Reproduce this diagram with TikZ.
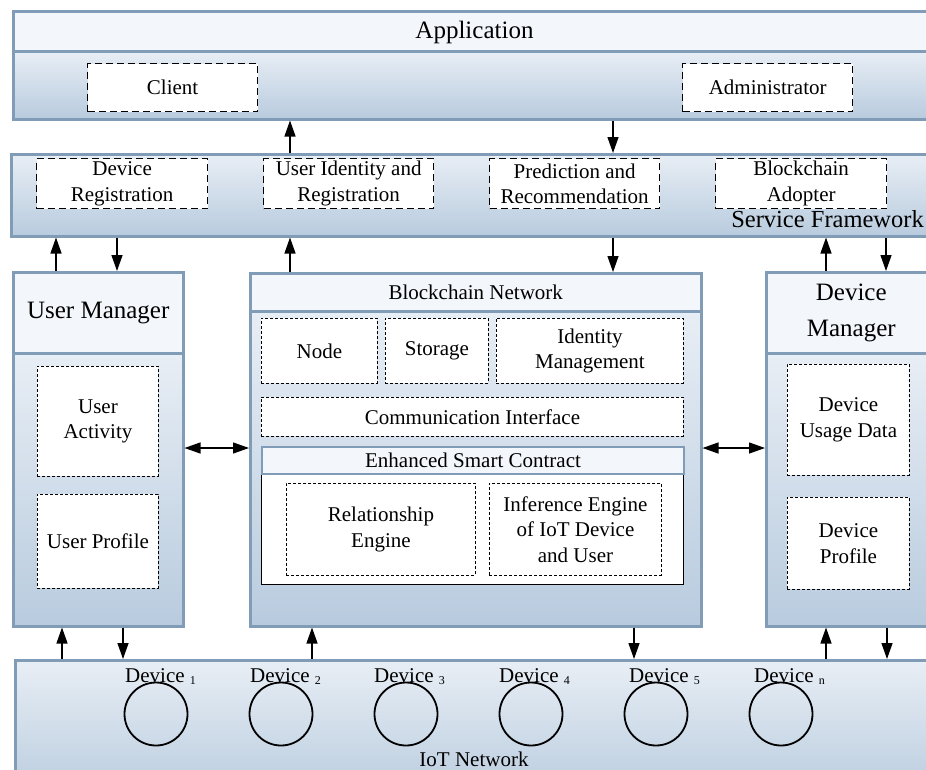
\documentclass[tikz,border=0pt]{standalone}
\usepackage{fontspec}
\setmainfont{Liberation Serif}
\usetikzlibrary{arrows.meta}
\definecolor{bord}{HTML}{809CB6}
\definecolor{hdrc}{HTML}{F3F6FA}
\definecolor{gtop}{HTML}{E8EEF5}
\definecolor{gbot}{HTML}{B8CBDE}
\begin{document}
\begin{tikzpicture}[x=1pt,y=-1pt,
 frame/.style={draw=bord,line width=2.5pt,inner sep=0pt,anchor=north west,align=center},
 hdr/.style={frame,fill=hdrc},
 body/.style={frame,top color=gtop,bottom color=gbot},
 dlong/.style={draw=black,fill=white,line width=1.3pt,dash pattern=on 7pt off 4pt,inner sep=0pt,anchor=north west,align=center},
 dshort/.style={draw=black,fill=white,line width=0.9pt,dash pattern=on 3pt off 2pt,inner sep=0pt,anchor=north west,align=center},
 arr/.style={-{Triangle[length=16pt,width=11pt]},line width=1.3pt},
 darr/.style={{Triangle[length=16pt,width=11pt]}-{Triangle[length=16pt,width=11pt]},line width=1.3pt},
 txt/.style={inner sep=0pt,align=center},
 big/.style={font=\fontsize{25}{30}\selectfont},
 dev/.style={circle,draw=black,line width=1.8pt,minimum size=63pt,inner sep=0pt},
 font=\fontsize{21}{25.5}\selectfont]
\useasboundingbox (0,0) rectangle (926,769);
\clip (0,0) rectangle (926,769);

% Application
\node[body,minimum width=950pt,minimum height=68pt] (appb) at (12,50) {};
\node[hdr,minimum width=950pt,minimum height=40pt] (apph) at (12,10) {};
\node[txt,big,anchor=base] (apptxt) at (474.5,38) {Application};
\node[dlong,minimum width=170pt,minimum height=48pt] (client) at (87,63) {Client};
\node[dlong,minimum width=170pt,minimum height=48pt] (admin) at (682,63) {Administrator};

% Service Framework
\node[body,minimum width=950pt,minimum height=82pt] (sf) at (10,153) {};
\node[dlong,minimum width=171pt,minimum height=50pt] (devreg) at (36,158) {Device\\Registration};
\node[dlong,minimum width=170pt,minimum height=50pt] (uid) at (263,158) {User Identity and\\Registration};
\node[dlong,minimum width=170pt,minimum height=50pt] (pred) at (489,158) {Prediction and\\Recommendation};
\node[dlong,minimum width=171pt,minimum height=50pt] (bca) at (715,158) {Blockchain\\Adopter};
\node[txt,anchor=base east,font=\fontsize{24.5}{29}\selectfont] (sftxt) at (924,227) {Service Framework};

% User Manager
\node[body,minimum width=170pt,minimum height=273pt] (umb) at (12,352) {};
\node[hdr,big,minimum width=170pt,minimum height=81pt] (umh) at (12,271) {User Manager};
\node[dshort,minimum width=121pt,minimum height=110pt] (uact) at (37,366) {User\\Activity};
\node[dshort,minimum width=121pt,minimum height=94pt] (uprof) at (37,494) {User Profile};

% Blockchain Network
\node[body,minimum width=451pt,minimum height=315pt] (bnb) at (249,310) {};
\node[hdr,minimum width=451pt,minimum height=38pt] (bnh) at (249,272) {Blockchain Network};
\node[dshort,minimum width=116pt,minimum height=65pt] (nodeb) at (261,318) {Node};
\node[dshort,minimum width=103pt,minimum height=65pt] (stor) at (385,318) {Storage};
\node[dshort,minimum width=187pt,minimum height=65pt] (idm) at (496,318) {Identity\\Management};
\node[dshort,minimum width=422pt,minimum height=39pt] (comm) at (261,397) {Communication Interface};
\node[draw=black,fill=white,line width=1.3pt,inner sep=0pt,anchor=north west,minimum width=422pt,minimum height=138pt] (esc) at (261,446) {};
\node[draw=bord,fill=hdrc,line width=2pt,inner sep=0pt,anchor=north west,minimum width=422pt,minimum height=27pt] (esch) at (261,446) {Enhanced Smart Contract};
\node[dshort,minimum width=189pt,minimum height=92pt] (rel) at (286,483) {Relationship\\Engine};
\node[dshort,minimum width=172pt,minimum height=92pt] (inf) at (489,483) {Inference Engine\\of IoT Device\\and User};

% Device Manager
\node[body,minimum width=170pt,minimum height=273pt] (dmb) at (765,352) {};
\node[hdr,font=\fontsize{25}{36}\selectfont,minimum width=170pt,minimum height=81pt] (dmh) at (765,271) {Device\\Manager};
\node[dshort,minimum width=122pt,minimum height=111pt] (dusage) at (787,364) {Device\\Usage Data};
\node[dshort,minimum width=122pt,minimum height=92pt] (dprof) at (787,497) {Device\\Profile};

% IoT Network
\node[body,minimum width=940pt,minimum height=140pt] (iot) at (14,659) {};
\node[txt,anchor=base] (iottxt) at (474,766) {IoT Network};
\foreach \i/\cx/\lx/\s in {1/156/125/1,2/281/250/2,3/406/374/3,4/531/499/4,5/656/629/5,6/781/754/n}{
  \node[dev] (c\i) at (\cx,714) {};
  \node[txt,anchor=base west] (l\i) at (\lx,682) {Device \raisebox{-2pt}{\fontsize{12}{12}\selectfont \s}};
}

% Connectors
\draw[arr] (sf.north -| 290,0) -- (appb.south -| 290,0);
\draw[arr] (appb.south -| 613,0) -- (sf.north -| 613,0);
\draw[arr] (umh.north -| 56,0) -- (sf.south -| 56,0);
\draw[arr] (sf.south -| 117,0) -- (umh.north -| 117,0);
\draw[arr] (bnh.north -| 290,0) -- (sf.south -| 290,0);
\draw[arr] (sf.south -| 613,0) -- (bnh.north -| 613,0);
\draw[arr] (dmh.north -| 826,0) -- (sf.south -| 826,0);
\draw[arr] (sf.south -| 886,0) -- (dmh.north -| 886,0);
\draw[arr] (iot.north -| 62,0) -- (umb.south -| 62,0);
\draw[arr] (umb.south -| 123,0) -- (iot.north -| 123,0);
\draw[arr] (iot.north -| 312,0) -- (bnb.south -| 312,0);
\draw[arr] (bnb.south -| 634,0) -- (iot.north -| 634,0);
\draw[arr] (iot.north -| 826,0) -- (dmb.south -| 826,0);
\draw[arr] (dmb.south -| 887,0) -- (iot.north -| 887,0);
\draw[darr] (umb.east |- 0,448) -- (bnb.west |- 0,448);
\draw[darr] (bnb.east |- 0,448) -- (dmb.west |- 0,448);
\end{tikzpicture}
\end{document}
